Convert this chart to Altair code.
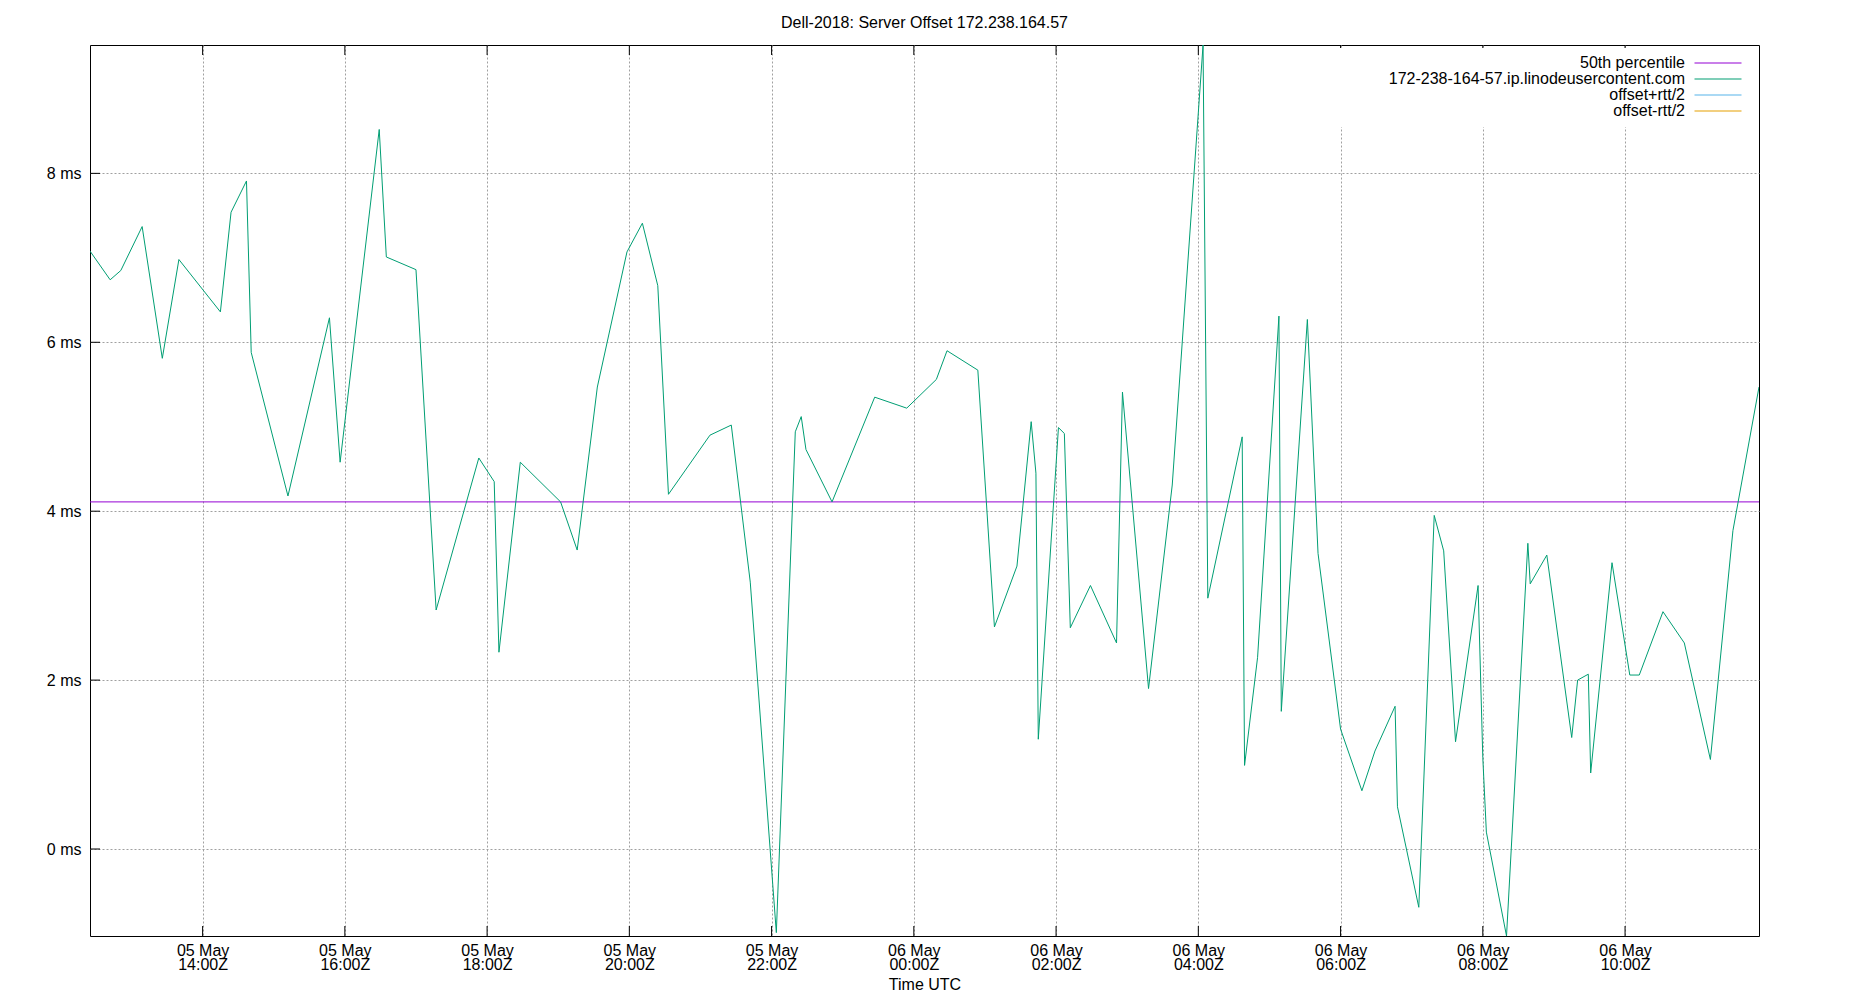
import altair as alt
import pandas as pd

FONT = "Liberation Sans"
TITLE = "Dell-2018: Server Offset 172.238.164.57"
HOST = "172-238-164-57.ip.linodeusercontent.com"
SERIES = ["50th percentile", HOST, "offset+rtt/2", "offset-rtt/2"]
COLORS = ["#9400d3", "#009e73", "#56b4e9", "#e69f00"]

TIMES = [
    "2024-05-05T12:25:00Z", "2024-05-05T12:42:00Z", "2024-05-05T12:51:00Z", "2024-05-05T13:09:00Z",
    "2024-05-05T13:26:00Z", "2024-05-05T13:40:00Z", "2024-05-05T14:15:00Z", "2024-05-05T14:24:00Z",
    "2024-05-05T14:37:00Z", "2024-05-05T14:41:00Z", "2024-05-05T15:12:00Z", "2024-05-05T15:47:00Z",
    "2024-05-05T15:56:00Z", "2024-05-05T16:29:00Z", "2024-05-05T16:35:00Z", "2024-05-05T17:00:00Z",
    "2024-05-05T17:17:00Z", "2024-05-05T17:53:00Z", "2024-05-05T18:06:00Z", "2024-05-05T18:10:00Z",
    "2024-05-05T18:28:00Z", "2024-05-05T19:02:00Z", "2024-05-05T19:16:00Z", "2024-05-05T19:33:00Z",
    "2024-05-05T19:58:00Z", "2024-05-05T20:11:00Z", "2024-05-05T20:24:00Z", "2024-05-05T20:33:00Z",
    "2024-05-05T21:08:00Z", "2024-05-05T21:26:00Z", "2024-05-05T21:42:00Z", "2024-05-05T22:04:00Z",
    "2024-05-05T22:20:00Z", "2024-05-05T22:25:00Z", "2024-05-05T22:29:00Z", "2024-05-05T22:51:00Z",
    "2024-05-05T23:27:00Z", "2024-05-05T23:54:00Z", "2024-05-06T00:19:00Z", "2024-05-06T00:28:00Z",
    "2024-05-06T00:54:00Z", "2024-05-06T01:08:00Z", "2024-05-06T01:27:00Z", "2024-05-06T01:39:00Z",
    "2024-05-06T01:43:00Z", "2024-05-06T01:45:00Z", "2024-05-06T02:02:00Z", "2024-05-06T02:07:00Z",
    "2024-05-06T02:12:00Z", "2024-05-06T02:29:00Z", "2024-05-06T02:51:00Z", "2024-05-06T02:56:00Z",
    "2024-05-06T03:18:00Z", "2024-05-06T03:38:00Z", "2024-05-06T04:04:00Z", "2024-05-06T04:08:00Z",
    "2024-05-06T04:37:00Z", "2024-05-06T04:39:00Z", "2024-05-06T04:50:00Z", "2024-05-06T05:08:00Z",
    "2024-05-06T05:10:00Z", "2024-05-06T05:32:00Z", "2024-05-06T05:41:00Z", "2024-05-06T06:00:00Z",
    "2024-05-06T06:18:00Z", "2024-05-06T06:29:00Z", "2024-05-06T06:46:00Z", "2024-05-06T06:48:00Z",
    "2024-05-06T07:06:00Z", "2024-05-06T07:19:00Z", "2024-05-06T07:27:00Z", "2024-05-06T07:37:00Z",
    "2024-05-06T07:56:00Z", "2024-05-06T08:00:00Z", "2024-05-06T08:03:00Z", "2024-05-06T08:20:00Z",
    "2024-05-06T08:38:00Z", "2024-05-06T08:40:00Z", "2024-05-06T08:54:00Z", "2024-05-06T09:15:00Z",
    "2024-05-06T09:20:00Z", "2024-05-06T09:29:00Z", "2024-05-06T09:31:00Z", "2024-05-06T09:49:00Z",
    "2024-05-06T10:04:00Z", "2024-05-06T10:12:00Z", "2024-05-06T10:32:00Z", "2024-05-06T10:50:00Z",
    "2024-05-06T11:12:00Z", "2024-05-06T11:31:00Z", "2024-05-06T11:53:00Z",
]
OFFSETS_MS = [
    7.08, 6.74, 6.85, 7.37,
    5.81, 6.98, 6.36, 7.54,
    7.91, 5.88, 4.18, 6.29,
    4.58, 8.52, 7.01, 6.86,
    2.83, 4.63, 4.35, 2.33,
    4.58, 4.11, 3.54, 5.47,
    7.07, 7.41, 6.67, 4.20,
    4.90, 5.02, 3.16, -0.99,
    4.94, 5.12, 4.73, 4.11,
    5.35, 5.22, 5.56, 5.90,
    5.67, 2.63, 3.35, 5.06,
    4.45, 1.30, 4.99, 4.92,
    2.62, 3.12, 2.44, 5.41,
    1.90, 4.31, 9.52, 2.97,
    4.88, 0.99, 2.27, 6.31,
    1.63, 6.27, 3.50, 1.42,
    0.69, 1.16, 1.69, 0.50,
    -0.69, 3.95, 3.53, 1.27,
    3.12, 1.08, 0.20, -1.03,
    3.62, 3.14, 3.48, 1.32,
    2.00, 2.07, 0.90, 3.39,
    2.06, 2.06, 2.81, 2.44,
    1.06, 3.77, 5.47,
]
MEDIAN_MS = [4.11]
Y_TICKS = [0, 2, 4, 6, 8]
X_TICKS = [
    "2024-05-05T14:00:00Z", "2024-05-05T16:00:00Z", "2024-05-05T18:00:00Z",
    "2024-05-05T20:00:00Z", "2024-05-05T22:00:00Z", "2024-05-06T00:00:00Z",
    "2024-05-06T02:00:00Z", "2024-05-06T04:00:00Z", "2024-05-06T06:00:00Z",
    "2024-05-06T08:00:00Z", "2024-05-06T10:00:00Z",
]

WIDTH, HEIGHT = 1669, 891
TICK_LEN = 10
GRID = "#a0a0a0"


def ms(s):
    return int(pd.Timestamp(s).value // 10**6)


line_df = pd.DataFrame({"time": TIMES, "offset": OFFSETS_MS, "series": HOST})
median_df = pd.DataFrame({"offset": MEDIAN_MS, "series": [SERIES[0]] * len(MEDIAN_MS)})
xtick_df = pd.DataFrame({"time": X_TICKS})
ytick_df = pd.DataFrame({"offset": Y_TICKS})

x_scale = alt.Scale(type="utc", domain=[ms(TIMES[0]), ms(TIMES[-1])], nice=False)
y_scale = alt.Scale(domain=[min(OFFSETS_MS), max(OFFSETS_MS)], nice=False, zero=False)
color_scale = alt.Scale(domain=SERIES, range=COLORS)

x_axis = alt.Axis(
    values=[ms(t) for t in X_TICKS],
    labelExpr="[utcFormat(datum.value, '%d %b'), utcFormat(datum.value, '%H:%MZ')]",
    ticks=False, tickSize=0, domain=False,
    grid=True, gridColor=GRID, gridDash=[2, 2], gridWidth=1,
    labelFont=FONT, labelFontSize=16, labelColor="black", labelBaseline="alphabetic",
    labelLineHeight=14, labelPadding=19, labelAlign="center", labelFlush=False,
    labelOverlap=False,
    title="Time UTC", titleFont=FONT, titleFontSize=16, titleFontWeight="normal",
    titleColor="black", titleBaseline="alphabetic", titleY=53,
)
y_axis = alt.Axis(
    values=Y_TICKS, labelExpr="datum.value + ' ms'",
    ticks=False, tickSize=0, domain=False,
    grid=True, gridColor=GRID, gridDash=[2, 2], gridWidth=1,
    labelFont=FONT, labelFontSize=16, labelColor="black", labelPadding=9,
    labelBaseline="middle", labelAlign="right", labelFlush=False, title=None,
)

# key box (opaque, gnuplot style): labels right-aligned, line samples to their right
legend_style = dict(
    title=None, orient="none", legendX=1240, legendY=3, padding=7,
    symbolType="M69.9,0H79.3", symbolSize=100, symbolStrokeWidth=1.2,
    labelAlign="right", labelOffset=332, labelFont=FONT,
    labelColor="black", labelLimit=500, fillColor="white", strokeColor="white",
)
try:
    legend = alt.Legend(labelFontSize=16, rowPadding=-1, **legend_style)
except Exception:
    legend = alt.Legend(labelFontSize=15, rowPadding=0, **legend_style)

color = alt.Color("series:N", scale=color_scale, legend=legend)

median = alt.Chart(median_df).mark_rule(strokeWidth=1).encode(
    y=alt.Y("offset:Q", scale=y_scale, axis=y_axis),
    color=color,
)
line = alt.Chart(line_df).mark_line(strokeWidth=1, clip=True).encode(
    x=alt.X("time:T", scale=x_scale, axis=x_axis),
    y=alt.Y("offset:Q", scale=y_scale, axis=y_axis),
    color=color,
)
# inward tick marks, gnuplot style (bottom, mirrored top, left)
bottom_ticks = alt.Chart(xtick_df).mark_rule(color="black", strokeWidth=1).encode(
    x=alt.X("time:T", scale=x_scale, axis=x_axis),
    y=alt.value(HEIGHT - TICK_LEN),
    y2=alt.value(HEIGHT),
)
top_ticks = alt.Chart(xtick_df).mark_rule(color="black", strokeWidth=1).encode(
    x=alt.X("time:T", scale=x_scale, axis=x_axis),
    y=alt.value(0),
    y2=alt.value(TICK_LEN),
)
left_ticks = alt.Chart(ytick_df).mark_rule(color="black", strokeWidth=1).encode(
    y=alt.Y("offset:Q", scale=y_scale, axis=y_axis),
    x=alt.value(0),
    x2=alt.value(TICK_LEN),
)

chart = alt.layer(median, line, bottom_ticks, top_ticks, left_ticks).properties(
    width=WIDTH,
    height=HEIGHT,
    title=alt.TitleParams(
        text=TITLE, font=FONT, fontSize=16, fontWeight="normal", color="black",
        anchor="middle", offset=18, baseline="alphabetic", dy=17,
    ),
    autosize=alt.AutoSizeParams(type="none"),
    padding={"left": 82, "top": 37, "right": 83, "bottom": 56},
).configure_view(stroke="black", strokeWidth=1)

chart.save("out.html", embed_options={"renderer": "svg", "actions": False})
